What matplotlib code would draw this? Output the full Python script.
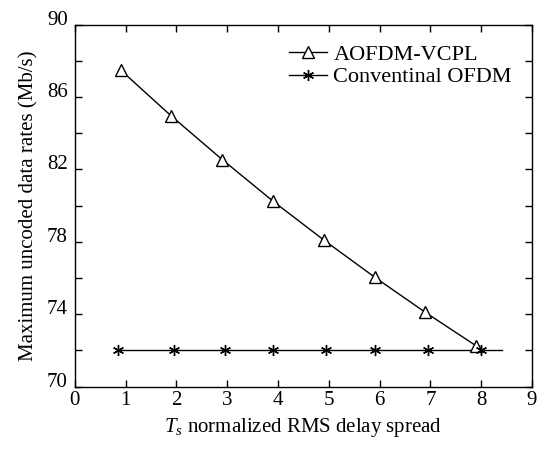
import numpy as np
import matplotlib.pyplot as plt
from matplotlib.ticker import FixedLocator, MultipleLocator

# datos
x_aofdm = [0.9, 1.9, 2.9, 3.9, 4.9, 5.9, 6.9, 7.9]
y_aofdm = [87.5, 84.95, 82.55, 80.25, 78.1, 76.05, 74.1, 72.25]

x_conv = [0.85, 1.95, 2.95, 3.9, 4.95, 5.9, 6.95, 8.0]
y_conv = [72, 72, 72, 72, 72, 72, 72, 72]
x_conv_linea = [0.85, 8.4]
y_conv_linea = [72, 72]

y_ticks = [70, 74, 78, 82, 86, 90]
y_ticks_menores = [72, 76, 80, 84, 88]

plt.rcParams['font.family'] = ['Liberation Serif', 'DejaVu Serif']
plt.rcParams['mathtext.fontset'] = 'custom'
plt.rcParams['mathtext.it'] = 'Liberation Serif:italic'
plt.rcParams['mathtext.rm'] = 'Liberation Serif'

fig = plt.figure(figsize=(5.39, 4.51), dpi=100)
ax = fig.add_axes([0.139, 0.143, 0.848, 0.802])

ax.plot(x_conv_linea, y_conv_linea, color='black', linewidth=1)
ax.plot(x_aofdm, y_aofdm, color='black', linewidth=1, marker='^',
        markersize=8, markerfacecolor='white', markeredgecolor='black',
        markeredgewidth=1)
ax.plot(x_conv, y_conv, color='black', linewidth=0, marker=(6, 2, 0),
        markersize=8, markeredgewidth=1, markeredgecolor='black')

# entradas de la leyenda
h1, = ax.plot([], [], color='black', linewidth=1, marker='^', markersize=8,
              markerfacecolor='white', markeredgecolor='black')
h2, = ax.plot([], [], color='black', linewidth=1, marker=(6, 2, 0),
              markersize=8, markeredgecolor='black')
ax.legend([h1, h2], ['AOFDM-VCPL', 'Conventinal OFDM'], loc='upper right',
          frameon=False, fontsize=16, handlelength=1.7, handletextpad=0.3,
          labelspacing=0.1, borderaxespad=0.3, bbox_to_anchor=(0.99, 0.99))

ax.set_xlim(0, 9)
ax.set_ylim(70, 90)
ax.xaxis.set_major_locator(MultipleLocator(1))
ax.yaxis.set_major_locator(FixedLocator(y_ticks))
ax.yaxis.set_minor_locator(FixedLocator(y_ticks_menores))
ax.tick_params(which='both', direction='in', top=True, right=True,
               labelsize=15, length=5, width=1)
ax.tick_params(axis='y', pad=5)
for lbl in ax.get_yticklabels():
    lbl.set_verticalalignment('baseline')

ax.set_xlabel(r'$T_s$ normalized RMS delay spread', fontsize=15, labelpad=4)
ax.set_ylabel('Maximum uncoded data rates (Mb/s)', fontsize=15, labelpad=6)

for s in ax.spines.values():
    s.set_linewidth(1)

fig.savefig('out.png', dpi=100)
